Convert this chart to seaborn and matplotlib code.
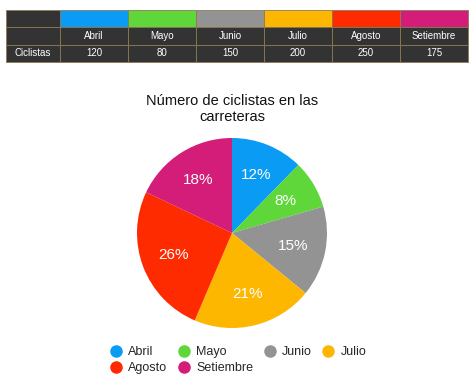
import matplotlib
matplotlib.use("Agg")
import matplotlib.pyplot as plt
from matplotlib.lines import Line2D
import seaborn as sns

# data
months = ["Abril", "Mayo", "Junio", "Julio", "Agosto", "Setiembre"]
cyclists = [120, 80, 150, 200, 250, 175]
row_label = "Ciclistas"
title = "Número de ciclistas en las\ncarreteras"
colors = ["#0a9cf5", "#5fd639", "#939393", "#fdb700", "#fe2a00", "#d31d78"]

sns.set_theme(style="white")
plt.rcParams["font.family"] = ["Liberation Sans", "DejaVu Sans"]

W, H = 474, 387
fig = plt.figure(figsize=(W / 100, H / 100), dpi=100)

# --- table at the top ---
tab_ax = fig.add_axes([6 / W, 1 - 62 / H, 462 / W, 52 / H])
tab_ax.axis("off")
dark = "#333333"
cell_text = [[""] * (len(months) + 1),
             [""] + months,
             [row_label] + [str(v) for v in cyclists]]
cell_colors = [[dark] + colors,
               [dark] * (len(months) + 1),
               [dark] * (len(months) + 1)]
first_w = 54
other_w = (462 - first_w) / len(months)
col_w = [first_w / 462] + [other_w / 462] * len(months)
table = tab_ax.table(cellText=cell_text, cellColours=cell_colors,
                     colWidths=col_w, bbox=[0, 0, 1, 1], cellLoc="center")
table.auto_set_font_size(False)
for (r, c), cell in table.get_celld().items():
    cell.set_edgecolor("#8c7a52")
    cell.set_linewidth(0.6)
    cell.get_text().set_color("white")
    cell.get_text().set_fontsize(7)

# --- pie ---
cx, cy, rad = 232, 233, 95
pie_ax = fig.add_axes([(cx - rad) / W, 1 - (cy + rad) / H, 2 * rad / W, 2 * rad / H])
wedges, _, autotexts = pie_ax.pie(
    cyclists, colors=colors, startangle=90, counterclock=False,
    autopct="%1.0f%%", pctdistance=0.66, radius=1,
    wedgeprops=dict(linewidth=0),
    textprops=dict(color="white", fontsize=11),
)
pie_ax.set_xlim(-1, 1)
pie_ax.set_ylim(-1, 1)

fig.text(cx / W, 1 - 109 / H, title, ha="center", va="center",
         fontsize=10.5, color="#111111", linespacing=1.25)

# legend filled row-wise like the reference
order = [0, 4, 1, 5, 2, 3]
handles = [Line2D([], [], marker="o", linestyle="", markersize=8,
                  markerfacecolor=colors[i], markeredgecolor=colors[i])
           for i in order]
labels = [months[i] for i in order]
fig.legend(handles, labels, ncol=4, loc="center",
           bbox_to_anchor=(238 / W, 1 - 360 / H), frameon=False,
           fontsize=9, handletextpad=0.5, columnspacing=0.8,
           labelspacing=0.3, handlelength=1.0, borderpad=0)

fig.savefig("out.png", dpi=100, facecolor="white")
